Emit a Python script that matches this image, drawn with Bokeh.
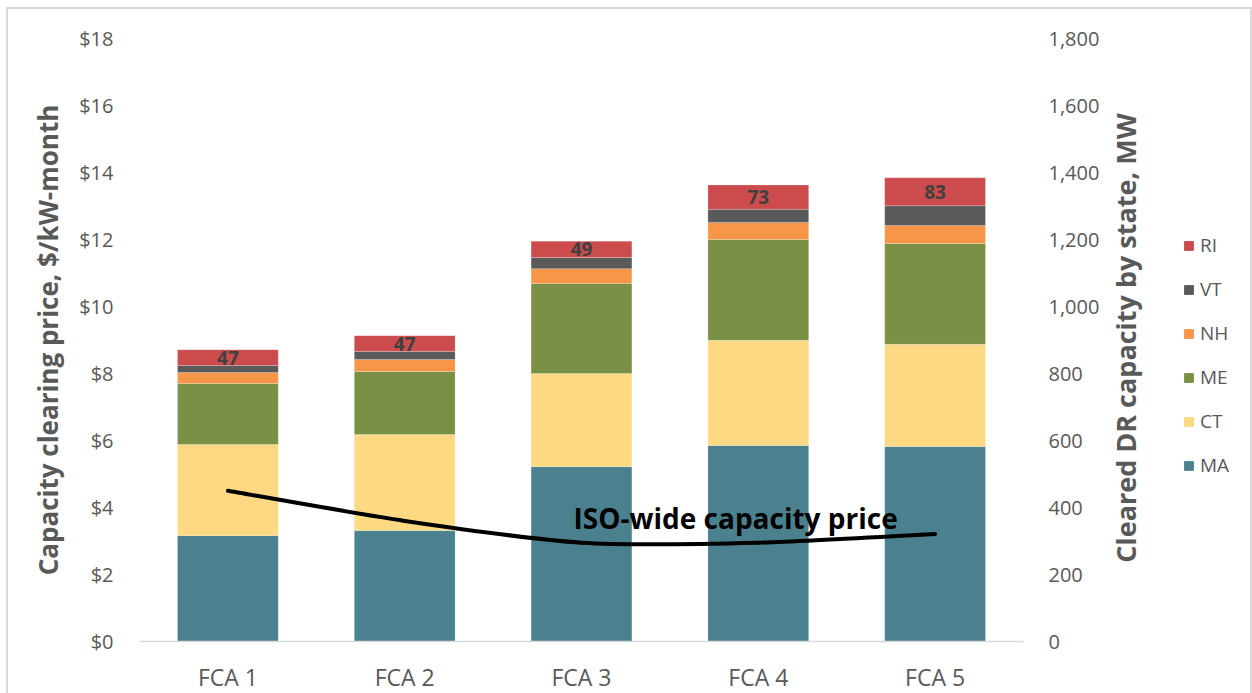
from bokeh.plotting import figure
from bokeh.layouts import row
from bokeh.models import (Range1d, LinearAxis, FixedTicker, NumeralTickFormatter,
                          ColumnDataSource, Legend, LegendItem, LabelSet, Label)
from bokeh.core.properties import value
from bokeh.embed import file_html
from bokeh.resources import INLINE

# Forward Capacity Auctions and cleared demand-response capacity (MW) by state
auctions = ["FCA 1", "FCA 2", "FCA 3", "FCA 4", "FCA 5"]
states = ["MA", "CT", "ME", "NH", "VT", "RI"]
ma = [316, 331, 522, 585, 582]
ct = [272, 287, 278, 314, 305]
me = [182, 188, 269, 301, 301]
nh = [33, 36, 44, 51, 54]
vt = [21, 24, 33, 39, 59]
ri = [47, 47, 49, 73, 83]
# ISO-wide capacity clearing price, $/kW-month
iso_price = [4.50, 3.60, 2.95, 2.95, 3.21]

price_ticks = [0, 2, 4, 6, 8, 10, 12, 14, 16, 18]
mw_ticks = [0, 200, 400, 600, 800, 1000, 1200, 1400, 1600, 1800]

colors = {"MA": "#4B818E", "CT": "#FDD984", "ME": "#7A9145",
          "NH": "#F79649", "VT": "#5A5A5A", "RI": "#CC4B4C"}

FONT = "Open Sans"
GREY = "#595959"

xs = [i + 0.5 for i in range(len(auctions))]
src = ColumnDataSource(dict(x=xs, MA=ma, CT=ct, ME=me, NH=nh, VT=vt, RI=ri))

# ---- main chart -------------------------------------------------------------
p = figure(frame_width=884, frame_height=603, x_range=Range1d(0, len(auctions)),
           y_range=Range1d(0, 18), output_backend="svg", toolbar_location=None,
           min_border_left=131, min_border_right=80, min_border_top=29,
           min_border_bottom=50, outline_line_color=None,
           background_fill_color="white", border_fill_color="white")
p.extra_y_ranges = {"mw": Range1d(0, 1800)}
p.xgrid.visible = False
p.ygrid.visible = False

# stacked bars, MW on the secondary scale
bars = p.vbar_stack(states, x="x", width=0.57, source=src, y_range_name="mw",
                    color=[colors[s] for s in states], line_color="white",
                    line_width=0.5, line_alpha=0.4)

# RI value labels centred in the top segment
totals = [a + b + c + d + e + f for a, b, c, d, e, f in zip(ma, ct, me, nh, vt, ri)]
lab_src = ColumnDataSource(dict(x=xs, y=[t - r / 2 for t, r in zip(totals, ri)],
                                text=[str(r) for r in ri]))
p.add_layout(LabelSet(x="x", y="y", text="text", source=lab_src, y_range_name="mw",
                      text_align="center", text_baseline="middle",
                      text_font=value(FONT), text_font_style="bold",
                      text_font_size="19px", text_color="#404040"))

# smoothed price line (cubic Bezier segments through each auction price)
n = len(xs)
px = xs[:]
py = iso_price[:]
k = 8.0  # tangent softness
x0, y0, x1, y1, cx0, cy0, cx1, cy1 = [], [], [], [], [], [], [], []
for i in range(n - 1):
    a = max(i - 1, 0)
    b = min(i + 2, n - 1)
    x0.append(px[i]); y0.append(py[i])
    x1.append(px[i + 1]); y1.append(py[i + 1])
    cx0.append(px[i] + (px[i + 1] - px[a]) / k)
    cy0.append(py[i] + (py[i + 1] - py[a]) / k)
    cx1.append(px[i + 1] - (px[b] - px[i]) / k)
    cy1.append(py[i + 1] - (py[b] - py[i]) / k)
p.bezier(x0=x0, y0=y0, x1=x1, y1=y1, cx0=cx0, cy0=cy0, cx1=cx1, cy1=cy1,
         line_color="black", line_width=4, line_cap="round")

p.add_layout(Label(x=2.455, y=3.70, text="ISO-wide capacity price",
                   text_font=FONT, text_font_style="bold", text_font_size="28px",
                   text_color="black", text_baseline="alphabetic", text_align="left"))

# axes
xa = p.xaxis[0]
xa.ticker = FixedTicker(ticks=xs)
xa.major_label_overrides = {x: a for x, a in zip(xs, auctions)}
xa.axis_line_color = "#D9D9D9"
xa.axis_line_width = 1.5
xa.major_tick_line_color = None
xa.minor_tick_line_color = None
xa.major_label_standoff = 13
xa.major_label_text_font = FONT
xa.major_label_text_font_size = "23px"
xa.major_label_text_color = GREY

ya = p.yaxis[0]
ya.ticker = FixedTicker(ticks=price_ticks)
ya.formatter = NumeralTickFormatter(format="$0")
ya.axis_line_color = None
ya.major_tick_line_color = None
ya.minor_tick_line_color = None
ya.major_label_standoff = 20
ya.major_label_text_font = FONT
ya.major_label_text_font_size = "20px"
ya.major_label_text_color = GREY
ya.axis_label = "Capacity clearing price, $/kW-month"
ya.axis_label_text_font = FONT
ya.axis_label_text_font_style = "bold"
ya.axis_label_text_font_size = "26px"
ya.axis_label_text_color = GREY
ya.axis_label_standoff = 10

ra = LinearAxis(y_range_name="mw", ticker=FixedTicker(ticks=mw_ticks),
                formatter=NumeralTickFormatter(format="0,0"))
ra.axis_line_color = None
ra.major_tick_line_color = None
ra.minor_tick_line_color = None
ra.major_label_standoff = 19
ra.major_label_text_font = FONT
ra.major_label_text_font_size = "20px"
ra.major_label_text_color = GREY
p.add_layout(ra, "right")

# ---- side strip: MW title (reads bottom-to-top) and state legend ------------
side = figure(width=147, height=682, x_range=Range1d(100, 101),
              y_range=Range1d(-10, -5), output_backend="svg",
              toolbar_location=None, x_axis_location=None,
              min_border_left=0, min_border_right=0, min_border_top=29,
              min_border_bottom=50, outline_line_color=None,
              background_fill_color="white", border_fill_color="white")
side.xgrid.visible = False
side.ygrid.visible = False
sa = side.yaxis[0]
sa.ticker = FixedTicker(ticks=[])
sa.axis_line_color = None
sa.major_tick_line_color = None
sa.minor_tick_line_color = None
sa.axis_label = "Cleared DR capacity by state, MW"
sa.axis_label_text_font = FONT
sa.axis_label_text_font_style = "bold"
sa.axis_label_text_font_size = "27px"
sa.axis_label_text_color = GREY
sa.axis_label_standoff = 0

# legend swatches share the stack's styling; the strip itself draws no bars
key = side.vbar_stack(states, x="x", width=0.57, source=src,
                      color=[colors[s] for s in states])
for r in key:
    r.visible = False
items = [LegendItem(label=s, renderers=[r]) for s, r in zip(states, key)][::-1]
legend = Legend(items=items, location=(40, 159), orientation="vertical",
                glyph_width=11, glyph_height=11, label_height=20,
                label_standoff=6, spacing=18, padding=0, margin=0,
                click_policy="none",
                border_line_color=None, background_fill_alpha=0,
                label_text_font=FONT, label_text_font_size="19px",
                label_text_color=GREY)
side.add_layout(legend, "center")

chart = row(p, side, spacing=0)
# light frame around the whole chart
chart.styles = {"margin-left": "6px", "margin-top": "7px",
                "border": "2px solid #D9D9D9"}

open("out.html", "w").write(file_html(chart, INLINE))
